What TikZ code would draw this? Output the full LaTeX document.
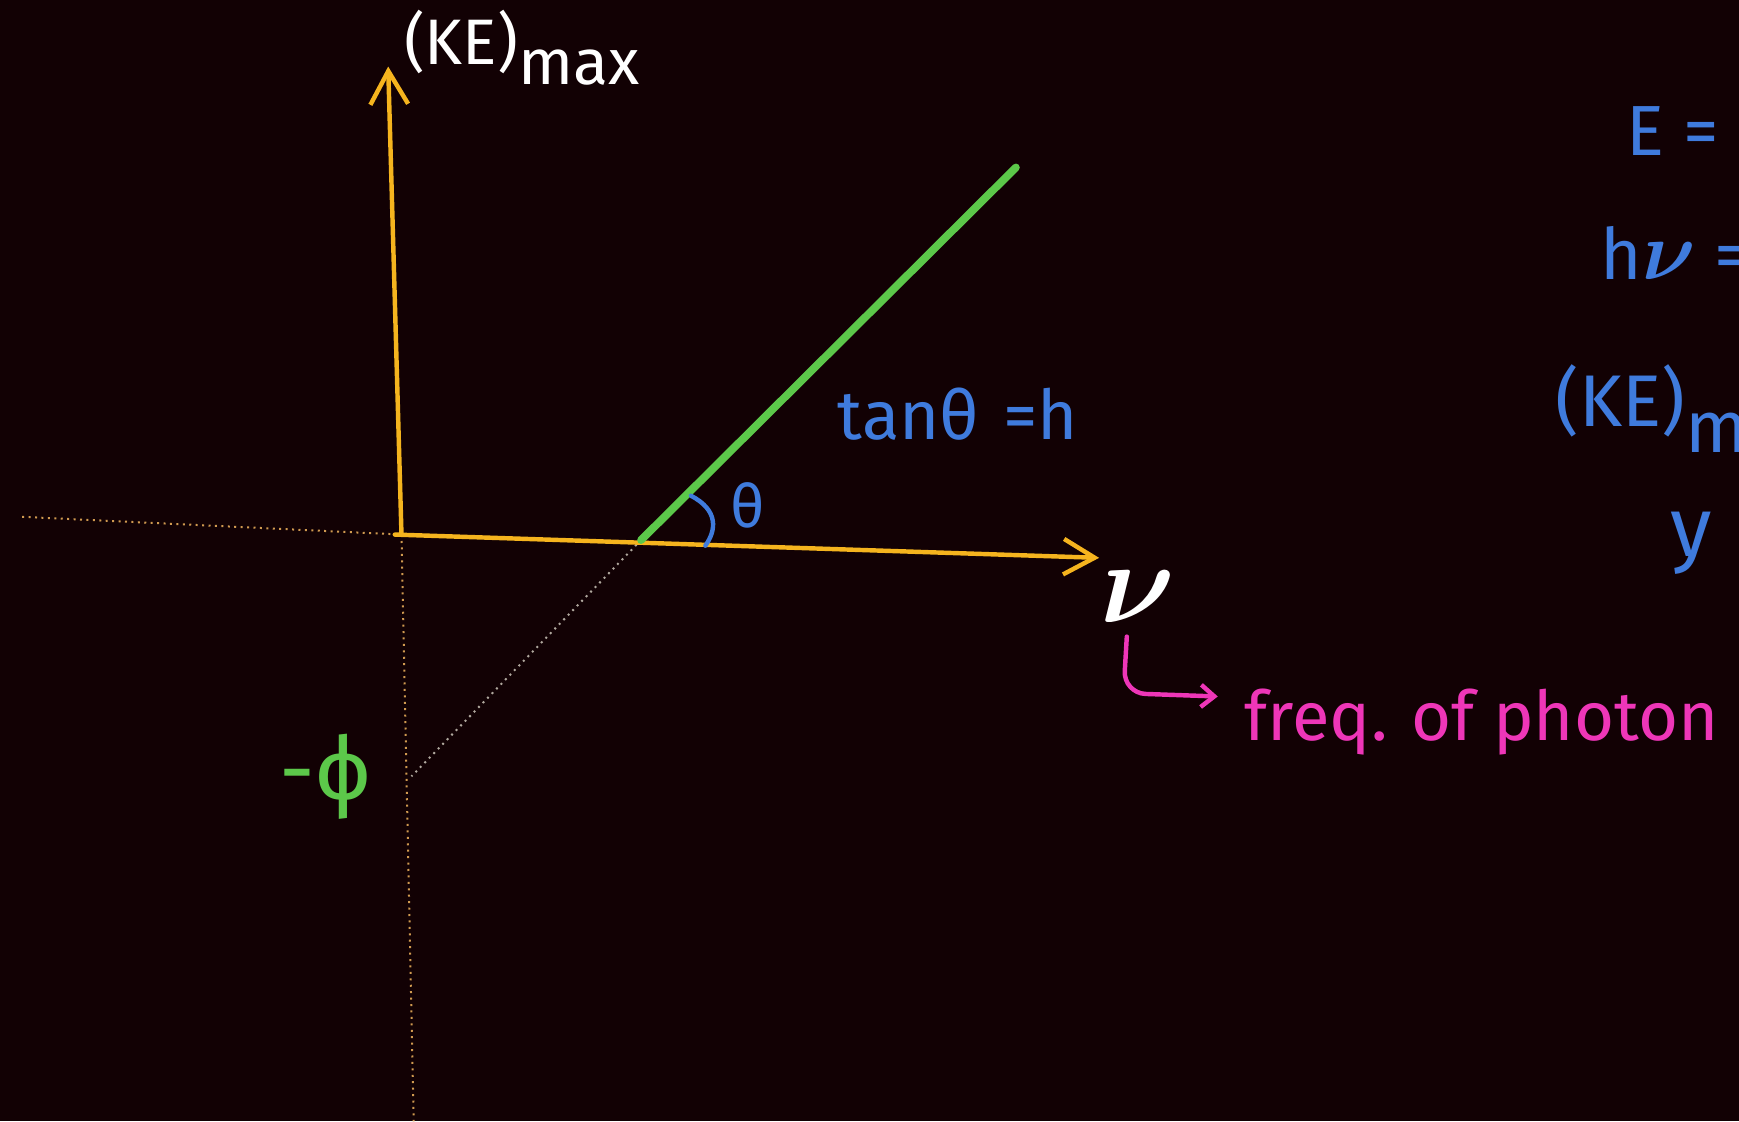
\documentclass[tikz,border=0pt]{standalone}
\usepackage{fontspec}
\setmainfont{Fira Sans}
\usetikzlibrary{arrows.meta}
\definecolor{bg}{HTML}{120104}
\definecolor{axisyel}{HTML}{F5B41E}
\definecolor{lgreen}{HTML}{5CC84A}
\definecolor{hblue}{HTML}{3F7BDD}
\definecolor{hpink}{HTML}{EE36B8}
\definecolor{dotorange}{HTML}{D09A50}
\definecolor{dotgrey}{HTML}{B0A89E}
\begin{document}
\begin{tikzpicture}[x=0.5pt,y=-0.5pt,
  axis/.style={draw=axisyel,line width=2pt,line cap=round,line join=round},
  guide/.style={draw=dotorange,line width=0.9pt,dotted},
  guidegrey/.style={draw=dotgrey,line width=0.9pt,dotted},
  every node/.style={inner sep=0pt}]
\fill[bg] (0,0) rectangle (1568,1011);
\clip (0,0) rectangle (1568,1011);
\useasboundingbox (0,0) rectangle (1568,1011);

% key points
\coordinate (O) at (362,482);
\coordinate (Ytop) at (350,60);
\coordinate (Xend) at (991,503);
\coordinate (G0) at (578,487);
\coordinate (G1) at (916,151);
\coordinate (Phi) at (371,700);
\coordinate (Lft) at (20,466);
\coordinate (Bot) at (373,1011);

% dotted guides
\draw[guide] (Lft) -- (O);
\draw[guide] (O) -- (Bot);
\draw[guidegrey] (G0) -- (Phi);

% axes
\draw[axis,-{Straight Barb[length=15pt,width=17pt,line width=2pt]}] (O) -- (Ytop);
\draw[axis,-{Straight Barb[length=14pt,width=16pt,line width=2pt]}] (356,482) -- (Xend);

% green line
\draw[lgreen,line width=3.5pt,line cap=round] (G0) -- (G1);

% angle arc
\draw[hblue,line width=2pt,line cap=round] (623,447) .. controls (648,460) and (646,478) .. (636,492);
\node[hblue,font=\fontsize{27}{30}\selectfont] (th) at (674,456) {θ};

% labels
\node[white,font=\fontsize{29}{32}\selectfont,anchor=base west] (ke) at (364,58) {(KE)\raisebox{-0.32em}{max}};
\node[hblue,font=\fontsize{31}{34}\selectfont,anchor=base west] (tan) at (755,396) {tanθ\hspace{0.35em}=h};
\node[lgreen,font=\fontsize{40}{44}\selectfont,anchor=base west] (phil) at (252,722) {-ϕ};
\node[white,font=\fontsize{30}{34}\selectfont] (nu) at (1026,538) {\scalebox{2.1}{\boldmath$\nu$}};

% pink hooked arrow
\coordinate (hk0) at (1016,574);
\coordinate (hk1) at (1098,628);
\draw[hpink,line width=2pt,line cap=round,rounded corners=10pt,-{Straight Barb[length=6pt,width=10pt,line width=2pt]}] (hk0) -- (1013,625) -- (hk1);
\node[hpink,font=\fontsize{31}{34}\selectfont,anchor=base west] (freq) at (1122,668) {freq. of photon};

% right column (cut off at the edge)
\node[hblue,font=\fontsize{32}{36}\selectfont,anchor=base west] (e1) at (1466,140) {E =};
\node[hblue,font=\fontsize{32}{36}\selectfont,anchor=base west] (e2) at (1443,252) {h\scalebox{1.5}{\boldmath$\nu$} =};
\node[hblue,font=\fontsize{33}{36}\selectfont,anchor=base west] (e3) at (1402,385) {(KE)\raisebox{-0.35em}{m}};
\node[hblue,font=\fontsize{38}{42}\selectfont,anchor=base west] (e4) at (1506,502) {y =};
\end{tikzpicture}
\end{document}
